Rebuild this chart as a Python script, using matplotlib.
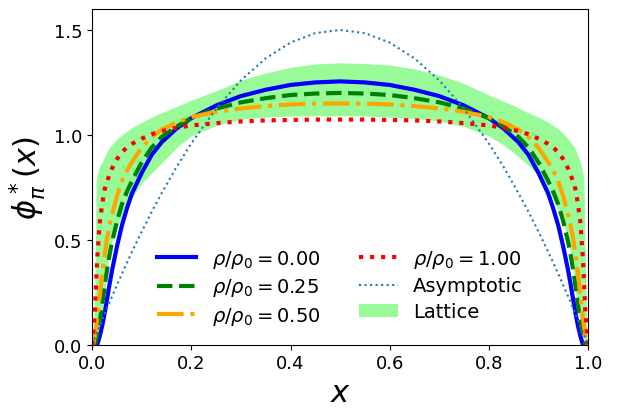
import numpy as np
import matplotlib
matplotlib.use("Agg")
import matplotlib.pyplot as plt

# momentum fraction grid for the model curves
x_vals = [0, 0.0025, 0.005, 0.0075, 0.01, 0.015, 0.02, 0.025, 0.03, 0.035, 0.04,
          0.05, 0.06, 0.07, 0.08, 0.1, 0.12, 0.14, 0.17, 0.2, 0.25, 0.3, 0.35, 0.4,
          0.45, 0.5,
          0.55, 0.6, 0.65, 0.7, 0.75, 0.8, 0.83, 0.86, 0.88, 0.9, 0.92, 0.93, 0.94,
          0.95, 0.96, 0.965, 0.97, 0.975, 0.98, 0.985, 0.99, 0.9925, 0.995, 0.9975, 1.0]

phi_rho000 = [0, 0, 0, 0, 0, 0.04, 0.09, 0.15, 0.22, 0.29, 0.355, 0.47, 0.57, 0.65,
              0.72, 0.82, 0.905, 0.965, 1.03, 1.08, 1.14, 1.185, 1.215, 1.238, 1.25, 1.255,
              1.25, 1.238, 1.215, 1.185, 1.14, 1.08, 1.03, 0.965, 0.905, 0.82, 0.72,
              0.65, 0.57, 0.47, 0.355, 0.29, 0.22, 0.15, 0.09, 0.04, 0, 0, 0, 0, 0]

phi_rho025 = [0, 0, 0, 0.02, 0.05, 0.11, 0.19, 0.28, 0.36, 0.43, 0.49, 0.59, 0.67,
              0.73, 0.78, 0.87, 0.94, 0.99, 1.04, 1.08, 1.125, 1.155, 1.175, 1.19, 1.197, 1.2,
              1.197, 1.19, 1.175, 1.155, 1.125, 1.08, 1.04, 0.99, 0.94, 0.87, 0.78,
              0.73, 0.67, 0.59, 0.49, 0.43, 0.36, 0.28, 0.19, 0.11, 0.05, 0.02, 0, 0, 0]

phi_rho050 = [0, 0.01, 0.04, 0.08, 0.13, 0.23, 0.34, 0.43, 0.51, 0.57, 0.62, 0.71,
              0.78, 0.83, 0.87, 0.94, 0.99, 1.025, 1.06, 1.085, 1.11, 1.126, 1.137, 1.145,
              1.149, 1.15,
              1.149, 1.145, 1.137, 1.126, 1.11, 1.085, 1.06, 1.025, 0.99, 0.94, 0.87,
              0.83, 0.78, 0.71, 0.62, 0.57, 0.51, 0.43, 0.34, 0.23, 0.13, 0.08, 0.04, 0.01, 0]

phi_rho100 = [0, 0.07, 0.15, 0.28, 0.41, 0.58, 0.67, 0.74, 0.78, 0.81, 0.84, 0.885,
              0.918, 0.94, 0.957, 0.982, 1.003, 1.018, 1.034, 1.045, 1.056, 1.064, 1.069,
              1.071, 1.073, 1.073,
              1.073, 1.071, 1.069, 1.064, 1.056, 1.045, 1.034, 1.018, 1.003, 0.982, 0.957,
              0.94, 0.918, 0.885, 0.84, 0.81, 0.78, 0.74, 0.67, 0.58, 0.41, 0.28, 0.15, 0.07, 0]

phi_asym = [0, 0.015, 0.03, 0.045, 0.059, 0.089, 0.118, 0.146, 0.175, 0.203, 0.230,
            0.285, 0.338, 0.391, 0.442, 0.540, 0.634, 0.722, 0.847, 0.960, 1.125, 1.260,
            1.365, 1.440, 1.485, 1.5,
            1.485, 1.440, 1.365, 1.260, 1.125, 0.960, 0.847, 0.722, 0.634, 0.540, 0.442,
            0.391, 0.338, 0.285, 0.230, 0.203, 0.175, 0.146, 0.118, 0.089, 0.059, 0.045,
            0.03, 0.015, 0]

# lattice band
x_lat = [0.002, 0.005, 0.008, 0.01, 0.015, 0.02, 0.025, 0.03, 0.035, 0.04, 0.05, 0.06,
         0.08, 0.1, 0.125, 0.15, 0.175, 0.2, 0.25, 0.3, 0.35, 0.4, 0.45, 0.5, 0.55, 0.6,
         0.65, 0.7, 0.75, 0.8, 0.825, 0.85, 0.875, 0.9, 0.92, 0.94, 0.95, 0.96, 0.965,
         0.97, 0.975, 0.98, 0.985, 0.99, 0.992, 0.995, 0.998]
lat_upper = [0.02, 0.25, 0.78, 0.81, 0.85, 0.87, 0.895, 0.92, 0.94, 0.955, 0.98, 1.0,
             1.035, 1.06, 1.09, 1.115, 1.14, 1.165, 1.21, 1.26, 1.295, 1.322, 1.338, 1.343,
             1.34, 1.333, 1.315, 1.285, 1.245, 1.19, 1.165, 1.14, 1.11, 1.085, 1.06, 1.03,
             1.005, 0.98, 0.965, 0.95, 0.93, 0.90, 0.87, 0.82, 0.78, 0.4, 0.02]
lat_lower = [0, 0, 0.02, 0.05, 0.1, 0.16, 0.25, 0.36, 0.44, 0.5, 0.56, 0.61, 0.7, 0.77,
             0.83, 0.89, 0.95, 0.995, 1.045, 1.075, 1.085, 1.09, 1.091, 1.091, 1.09,
             1.085, 1.078, 1.066, 1.04, 0.995, 0.96, 0.915, 0.865, 0.81, 0.74, 0.64, 0.59,
             0.5, 0.44, 0.36, 0.25, 0.16, 0.1, 0.05, 0.03, 0, 0]

plt.rcParams["font.size"] = 13

fig = plt.figure(figsize=(6.26, 4.10), dpi=100)
ax = fig.add_axes([0.1474, 0.157, 0.7917, 0.8186])

band = ax.fill_between(x_lat, lat_lower, lat_upper, color="palegreen", lw=0,
                       label="Lattice")
l1, = ax.plot(x_vals, phi_rho000, color="blue", ls="-", lw=3,
              label=r"$\rho/\rho_0 = 0.00$")
l2, = ax.plot(x_vals, phi_rho025, color="green", ls="--", lw=3,
              label=r"$\rho/\rho_0 = 0.25$")
l3, = ax.plot(x_vals, phi_rho050, color="orange", ls="-.", lw=3,
              label=r"$\rho/\rho_0 = 0.50$")
l4, = ax.plot(x_vals, phi_rho100, color="red", ls=":", lw=3,
              label=r"$\rho/\rho_0 = 1.00$")
l5, = ax.plot(x_vals, phi_asym, color="tab:blue", ls=":", lw=1.5,
              label="Asymptotic")

ax.set_xlim(0, 1)
ax.set_ylim(0, 1.6)
ax.set_xticks([0, 0.2, 0.4, 0.6, 0.8, 1.0])
ax.set_yticks([0, 0.5, 1.0, 1.5])
ax.tick_params(labelsize=13)
ax.set_xlabel(r"$x$", fontsize=22)
ax.set_ylabel(r"$\phi^*_\pi(x)$", fontsize=22)

ax.legend(handles=[l1, l2, l3, l4, l5, band], ncol=2, loc="lower center",
          frameon=False, fontsize=14, handlelength=2.0, columnspacing=2.0,
          labelspacing=0.35)

fig.savefig("out.png", dpi=100)
